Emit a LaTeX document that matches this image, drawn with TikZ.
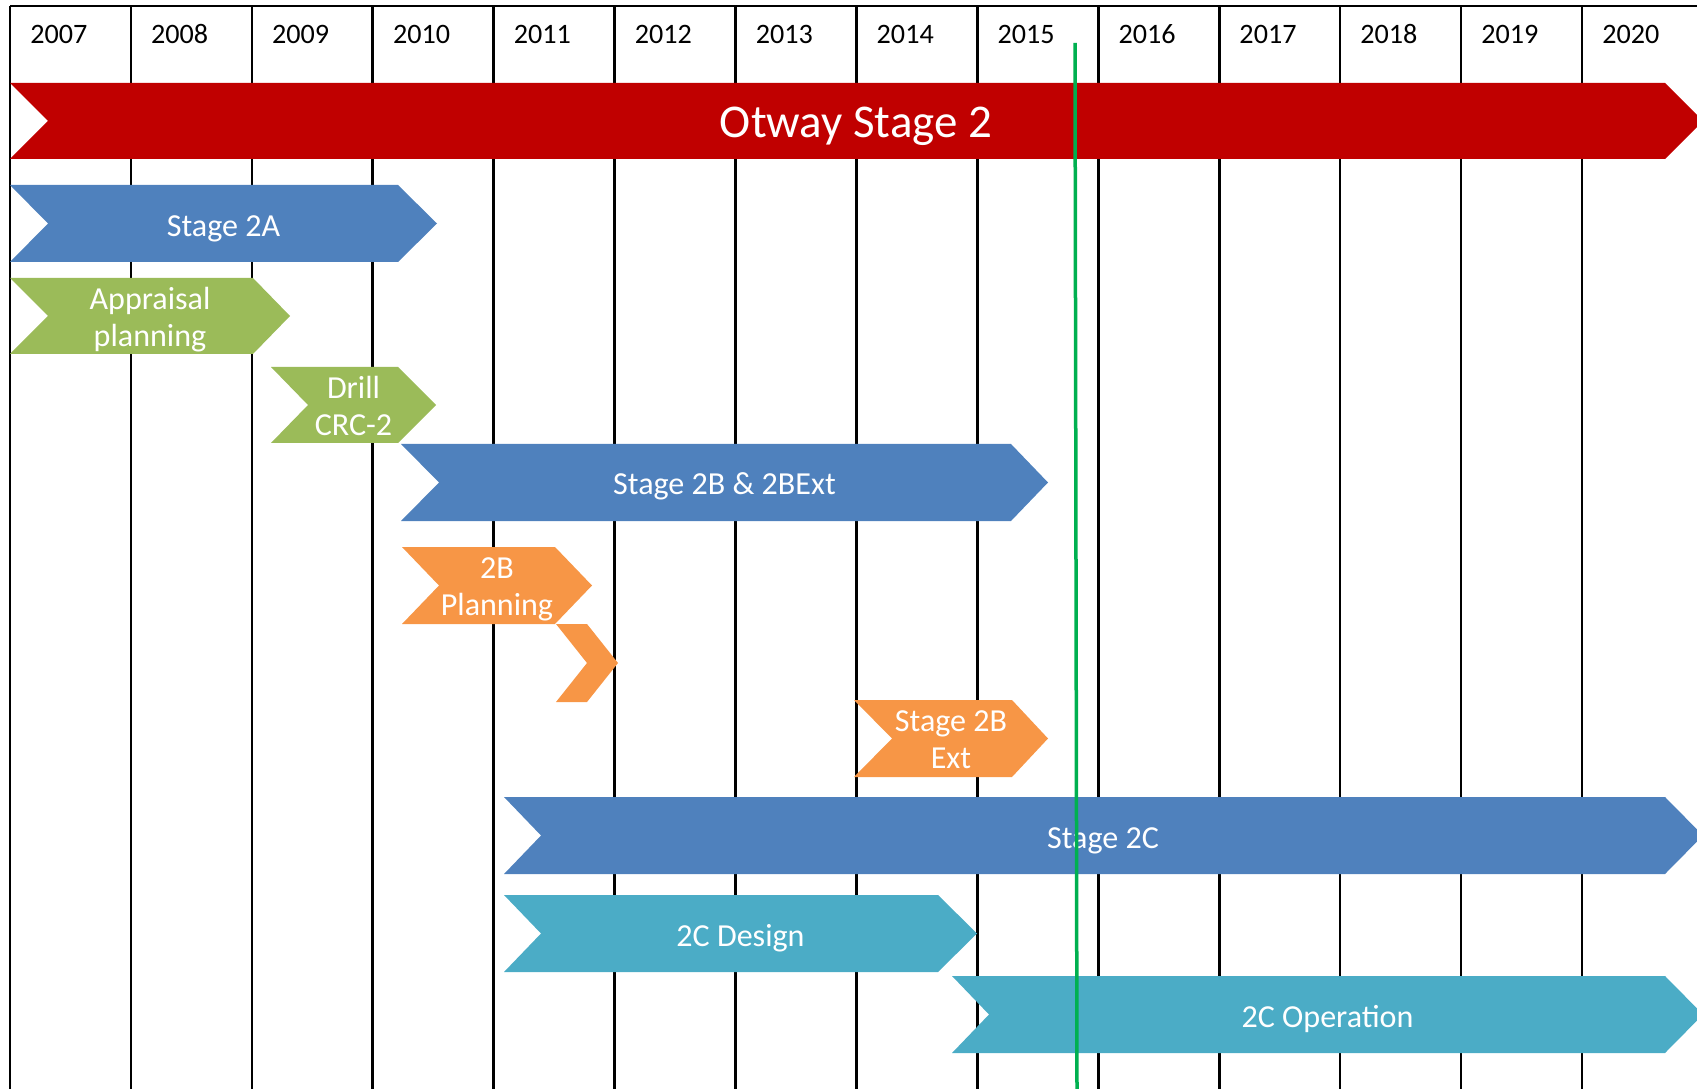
\documentclass[tikz,border=0pt]{standalone}
\usepackage{fontspec}
\setmainfont{Carlito}

\definecolor{otwayred}{RGB}{192,0,0}
\definecolor{stageblue}{RGB}{79,129,189}
\definecolor{stagegreen}{RGB}{155,187,89}
\definecolor{stageorange}{RGB}{247,150,70}
\definecolor{stageteal}{RGB}{75,172,198}
\definecolor{nowgreen}{RGB}{0,176,80}

\begin{document}
\begin{tikzpicture}[x=0.025cm,y=-0.025cm,
  grid/.style={black,line width=0.065cm},
  year/.style={anchor=west,inner sep=0pt,font=\fontsize{20}{24}\selectfont},
  bartext/.style={text=white,align=center,inner sep=0pt,font=\fontsize{22.8}{26.3}\selectfont}]

\useasboundingbox (0,0) rectangle (1697,1089);

% year columns
\draw [grid] (10,6)--(1697,6);
\foreach \k in {0,...,13}
  \draw [grid] ({10+120.92*\k},6)--({10+120.92*\k},1089);
\foreach \yr [count=\k from 0] in {2007,...,2020}
  \node [year] (y\yr) at ({30+120.92*\k},34) {\yr};

% Otway Stage 2
\fill [otwayred] (10,83)--(1665,83)--(1703,121)--(1665,159)--(10,159)--(48,121)--cycle;
\node [bartext,font=\fontsize{33.4}{40}\selectfont] (otway) at (856,126.5) {Otway Stage 2};

% Stage 2A and its parts
\fill [stageblue] (10,185)--(398,185)--(437,223.5)--(398,262)--(10,262)--(48,223.5)--cycle;
\node [bartext] (s2a) at (223.5,228.5) {Stage 2A};

\fill [stagegreen] (10,278)--(253,278)--(290,316)--(253,354)--(10,354)--(48,316)--cycle;
\node [bartext] (appr) at (150,319.5) {Appraisal\\planning};

\fill [stagegreen] (271,367)--(398,367)--(436,405)--(398,443)--(271,443)--(308,405)--cycle;
\node [bartext] (drill) at (353.5,406) {Drill\\CRC-2};

% Stage 2B
\fill [stageblue] (401,444)--(1011,444)--(1048,482.5)--(1011,521)--(401,521)--(439,482.5)--cycle;
\node [bartext] (s2b) at (724.5,486.5) {Stage 2B \& 2BExt};

\fill [stageorange] (402,547)--(555,547)--(592,585.5)--(555,624)--(402,624)--(439,585.5)--cycle;
\node [bartext] (plan2b) at (497,589.5) {2B\\Planning};
\fill [stageorange] (556,624)--(587,624)--(618,663)--(587,702)--(556,702)--(587,663)--cycle;

\fill [stageorange] (854,700)--(1012,700)--(1048,738.5)--(1012,777)--(854,777)--(892,738.5)--cycle;
\node [bartext] (s2bext) at (951,739.5) {Stage 2B\\Ext};

% Stage 2C
\fill [stageblue] (504,797)--(1665,797)--(1703,835.5)--(1665,874)--(504,874)--(541,835.5)--cycle;
\node [bartext] (s2c) at (1103,840.5) {Stage 2C};

\fill [stageteal] (504,895)--(938,895)--(977,933.5)--(938,972)--(504,972)--(541,933.5)--cycle;
\node [bartext] (design) at (740.5,938) {2C Design};

\fill [stageteal] (952,976)--(1665,976)--(1703,1014.5)--(1665,1053)--(952,1053)--(989,1014.5)--cycle;
\node [bartext] (oper) at (1327.5,1019) {2C Operation};

% today
\coordinate (nowtop) at (1075,43);
\coordinate (nowbot) at (1077,1089);
\draw [nowgreen,line width=0.0875cm] (nowtop)--(nowbot);

\end{tikzpicture}
\end{document}
